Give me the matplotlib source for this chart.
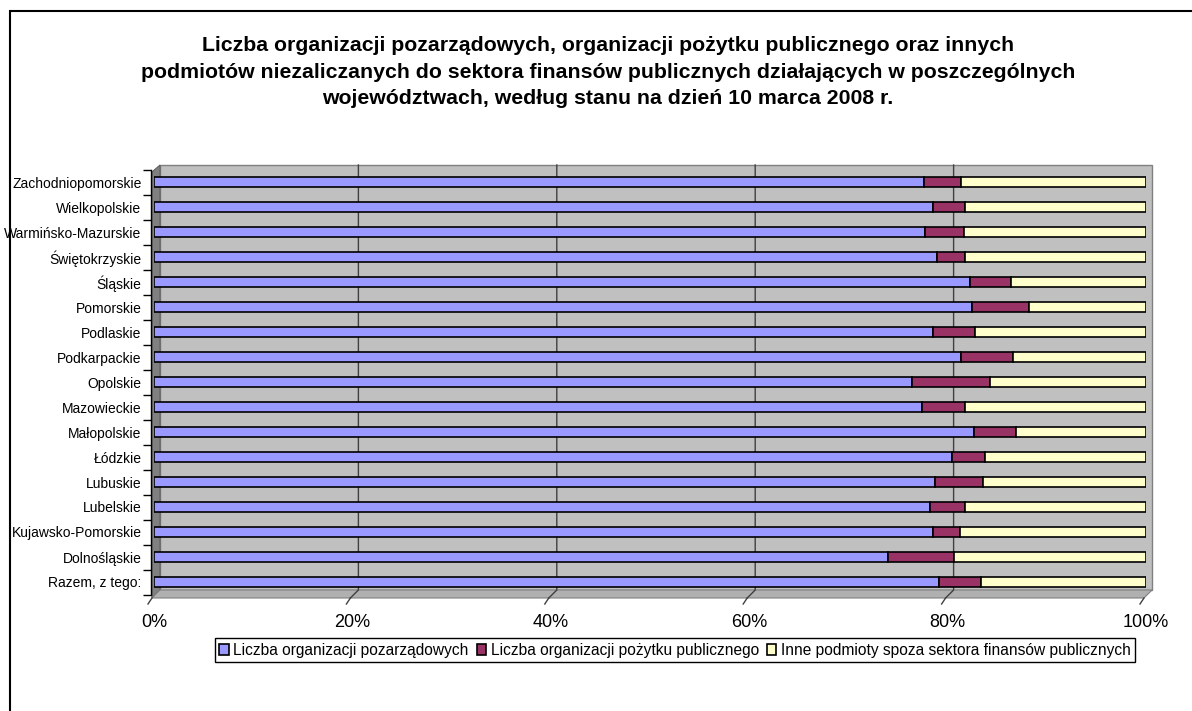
import matplotlib

matplotlib.use("Agg")
import matplotlib.pyplot as plt  # noqa: E402
from matplotlib.patches import Polygon, Rectangle  # noqa: E402

plt.rcParams["font.family"] = ["Liberation Sans", "DejaVu Sans"]

W, H = 1192, 711

regions = ["Razem, z tego:", "Dolnośląskie", "Kujawsko-Pomorskie", "Lubelskie",
           "Lubuskie", "Łódzkie", "Małopolskie", "Mazowieckie", "Opolskie",
           "Podkarpackie", "Podlaskie", "Pomorskie", "Śląskie", "Świętokrzyskie",
           "Warmińsko-Mazurskie", "Wielkopolskie", "Zachodniopomorskie"]
# shares in percent
ngo = [79.1, 74.0, 78.5, 78.2, 78.7, 80.4, 82.7, 77.4, 76.4,
       81.4, 78.5, 82.5, 82.3, 78.9, 77.7, 78.5, 77.6]
opp = [4.3, 6.6, 2.7, 3.6, 4.9, 3.4, 4.2, 4.4, 7.9,
       5.2, 4.3, 5.7, 4.1, 2.9, 4.0, 3.3, 3.8]
other = [100 - a - b for a, b in zip(ngo, opp)]

series_names = ["Liczba organizacji pozarządowych",
                "Liczba organizacji pożytku publicznego",
                "Inne podmioty spoza sektora finansów publicznych"]
colors = ["#9999FF", "#993366", "#FFFFCC"]
xticks = [0, 20, 40, 60, 80, 100]

title = ("Liczba organizacji pozarządowych, organizacji pożytku publicznego oraz innych\n"
         "podmiotów niezaliczanych do sektora finansów publicznych działających w poszczególnych\n"
         "województwach, według stanu na dzień 10 marca 2008 r.")


def px(x, y):
    return (x / W, 1 - y / H)


def add_poly(fig, pts, **kw):
    fig.patches.append(Polygon([px(x, y) for x, y in pts], closed=True,
                               transform=fig.transFigure, zorder=-5, **kw))


def add_line(fig, pts, **kw):
    xs = [px(x, y)[0] for x, y in pts]
    ys = [px(x, y)[1] for x, y in pts]
    fig.lines.append(plt.Line2D(xs, ys, transform=fig.transFigure, zorder=-4, **kw))


fig = plt.figure(figsize=(W / 100, H / 100), dpi=100)

# outer chart border (right and bottom edges run off the picture)
fig.patches.append(Rectangle((10 / W, -0.5), 2, 1.5 - 11 / H, transform=fig.transFigure,
                             fill=False, edgecolor="black", lw=1.5, zorder=-6))

# pseudo 3D walls
wall_l, wall_r, wall_t, wall_b = 160, 1152, 165, 590
add_poly(fig, [(wall_l, wall_t), (wall_r, wall_t), (wall_r, wall_b), (wall_l, wall_b)],
         facecolor="#C0C0C0", edgecolor="#808080", lw=1)
add_poly(fig, [(152, 172), (wall_l, wall_t), (wall_l, wall_b), (152, 598)],
         facecolor="#808080", edgecolor="#606060", lw=0.8)
add_poly(fig, [(152, 598), (wall_l, wall_b), (wall_r, wall_b), (1144, 598)],
         facecolor="#B0B0B0", edgecolor="#808080", lw=0.8)
for t in xticks:
    xb = wall_l + t / 100 * (wall_r - wall_l)
    xf = 152 + t / 100 * (1144 - 152)
    if 0 < t < 100:
        add_line(fig, [(xb, wall_t), (xb, wall_b), (xf, 598)], color="#404040", lw=1)
    add_line(fig, [(xf, 598), (xf - 4, 604)], color="#404040", lw=1)

ax_l, ax_r, ax_t, ax_b = 154, 1146, 169.5, 594.5
ax = fig.add_axes([ax_l / W, 1 - ax_b / H, (ax_r - ax_l) / W, (ax_b - ax_t) / H])
ax.patch.set_alpha(0)

ys = list(range(len(regions)))
left = [0] * len(regions)
for vals, name, col in zip([ngo, opp, other], series_names, colors):
    ax.barh(ys, vals, left=left, height=0.42, color=col, edgecolor="black", lw=1.2,
            label=name)
    left = [l + v for l, v in zip(left, vals)]

ax.set_xlim(0, 100)
ax.set_ylim(-0.5, len(regions) - 0.5)
ax.set_xticks(xticks)
ax.set_xticklabels([f"{t}%" for t in xticks], fontsize=13)
ax.set_yticks(ys)
ax.set_yticklabels(regions, fontsize=6.6,
                   family=["Liberation Sans Narrow", "Liberation Sans", "DejaVu Sans"])
ax.set_yticks([y - 0.5 for y in ys] + [len(regions) - 0.5], minor=True)
ax.tick_params(axis="y", which="major", length=0, pad=7)
ax.tick_params(axis="y", which="minor", length=6, width=1, color="black")
ax.tick_params(axis="x", length=0, pad=14)
for s in ["top", "right", "bottom"]:
    ax.spines[s].set_visible(False)
ax.spines["left"].set_position(("outward", 2))
ax.spines["left"].set_linewidth(1)

fig.text(608 / W, 1 - 72 / H, title, ha="center", va="center", fontsize=15.3,
         fontweight="bold", linespacing=1.5)

fig.legend(loc="center", bbox_to_anchor=(675 / W, 1 - 650 / H), ncol=3, fontsize=11.2,
           frameon=True, fancybox=False, edgecolor="black", framealpha=1,
           handlelength=0.6, handleheight=0.7, handletextpad=0.3, columnspacing=0.5,
           borderpad=0.3)

fig.savefig("out.png", dpi=100)
